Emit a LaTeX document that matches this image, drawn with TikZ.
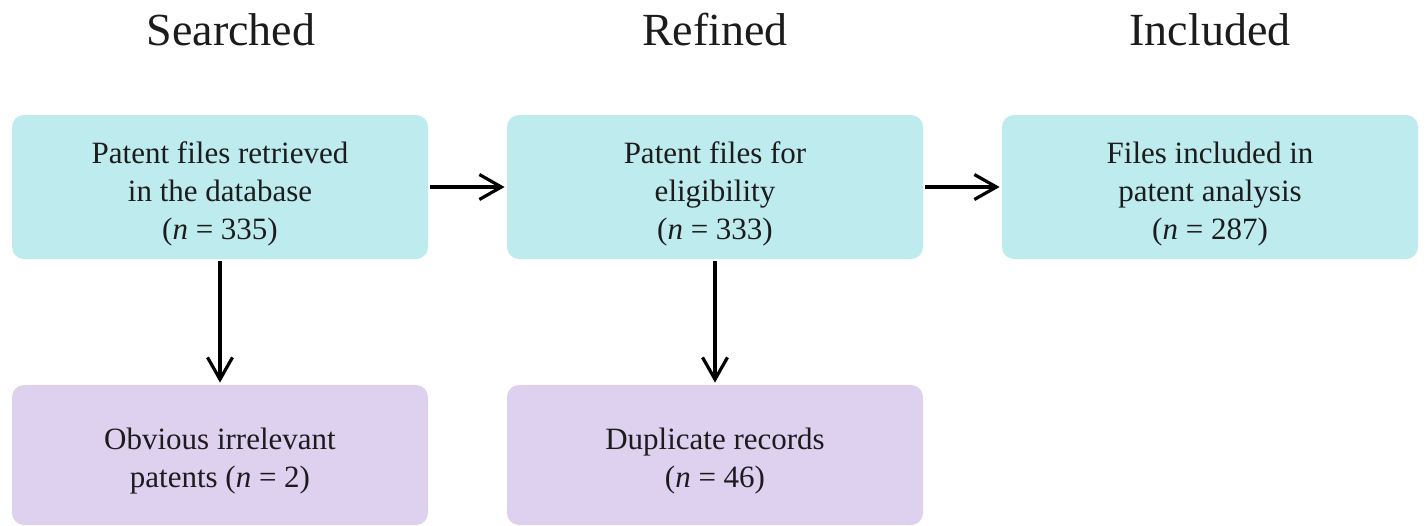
\documentclass[tikz,border=0pt]{standalone}
\usepackage{fontspec}
\setmainfont{Liberation Serif}
\usetikzlibrary{arrows.meta}
\definecolor{cyanbox}{RGB}{190,236,238}
\definecolor{purplebox}{RGB}{221,209,239}
\definecolor{txt}{RGB}{28,28,30}
\begin{document}
\begin{tikzpicture}[x=0.5pt,y=-0.5pt,
  box/.style={rounded corners=6pt, draw=none, minimum width=208pt, inner sep=0pt},
  topbox/.style={box, fill=cyanbox, minimum height=72pt},
  botbox/.style={box, fill=purplebox, minimum height=70pt},
  lbl/.style={align=center, text=txt, font=\fontsize{15.5pt}{19pt}\selectfont, inner sep=0pt},
  toplbl/.style={lbl, yshift=-3.5pt},
  botlbl/.style={lbl, yshift=-3pt},
  title/.style={anchor=base, text=txt, font=\fontsize{23pt}{27pt}\selectfont},
  conn/.style={line width=1.6pt, -{Straight Barb[length=11pt,width=12.5pt,line width=1.6pt]}, shorten <=1pt, shorten >=1pt}]
\useasboundingbox[fill=white] (0,0) rectangle (1428,525);
\node[title] (t1) at (231,45) {Searched};
\node[title] (t2) at (715,45) {Refined};
\node[title] (t3) at (1210,45) {Included};
\node[topbox, label={[toplbl]center:{Patent files retrieved\\in the database\\(\textit{n} = 335)}}] (b1) at (220,187) {};
\node[topbox, label={[toplbl]center:{Patent files for\\eligibility\\(\textit{n} = 333)}}] (b2) at (715,187) {};
\node[topbox, label={[toplbl]center:{Files included in\\patent analysis\\(\textit{n} = 287)}}] (b3) at (1210,187) {};
\node[botbox, label={[botlbl]center:{Obvious irrelevant\\patents (\textit{n} = 2)}}] (c1) at (220,455) {};
\node[botbox, label={[botlbl]center:{Duplicate records\\(\textit{n} = 46)}}] (c2) at (715,455) {};
\draw[conn] (b1.east) -- (b2.west);
\draw[conn] (b2.east) -- (b3.west);
\draw[conn] (b1.south) -- (c1.north);
\draw[conn] (b2.south) -- (c2.north);
\end{tikzpicture}
\end{document}
